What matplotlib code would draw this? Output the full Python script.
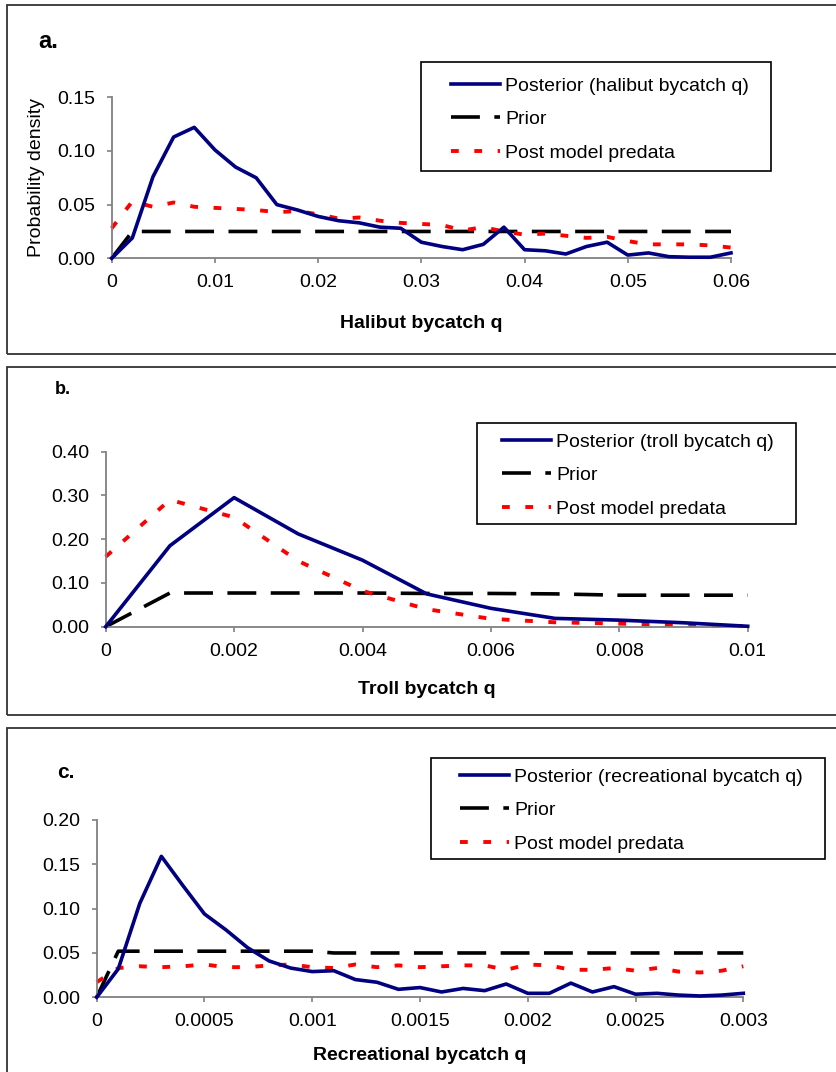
import matplotlib
matplotlib.use("Agg")
import matplotlib.pyplot as plt
from matplotlib.patches import Rectangle
from matplotlib.lines import Line2D

plt.rcParams.update({
    "font.family": ["Liberation Sans", "DejaVu Sans"],
    "font.size": 14,
    "axes.edgecolor": "#808080",
    "axes.linewidth": 1.3,
    "xtick.color": "#808080",
    "ytick.color": "#808080",
    "xtick.labelcolor": "black",
    "ytick.labelcolor": "black",
    "xtick.direction": "out",
    "ytick.direction": "out",
    "xtick.major.size": 3.6,
    "ytick.major.size": 3.6,
    "xtick.major.width": 1.2,
    "ytick.major.width": 1.2,
    "xtick.labelsize": 14,
    "ytick.labelsize": 14,
})

W, H = 836, 1072

# ─── data ────────────────────────────────────────────────
halibut_q = [0, 0.002, 0.004, 0.006, 0.008, 0.010, 0.012, 0.014, 0.016, 0.018,
             0.020, 0.022, 0.024, 0.026, 0.028, 0.030, 0.032, 0.034, 0.036, 0.038,
             0.040, 0.042, 0.044, 0.046, 0.048, 0.050, 0.052, 0.054, 0.056, 0.058, 0.060]
halibut_post = [0, 0.019, 0.076, 0.113, 0.122, 0.101, 0.085, 0.075, 0.050, 0.045,
                0.039, 0.035, 0.033, 0.029, 0.028, 0.015, 0.011, 0.008, 0.013, 0.029,
                0.008, 0.007, 0.004, 0.011, 0.015, 0.003, 0.005, 0.0015, 0.001, 0.001, 0.005]
halibut_prior = [0, 0.025, 0.025, 0.025, 0.025, 0.025, 0.025, 0.025, 0.025, 0.025,
                 0.025, 0.025, 0.025, 0.025, 0.025, 0.025, 0.025, 0.025, 0.025, 0.025,
                 0.025, 0.025, 0.025, 0.025, 0.025, 0.025, 0.025, 0.025, 0.025, 0.025, 0.025]
halibut_predata = [0.028, 0.053, 0.048, 0.052, 0.048, 0.047, 0.046, 0.045, 0.043, 0.044,
                   0.041, 0.037, 0.038, 0.035, 0.033, 0.032, 0.031, 0.026, 0.029, 0.025,
                   0.022, 0.023, 0.021, 0.019, 0.020, 0.016, 0.013, 0.013, 0.013, 0.012, 0.010]

troll_q = [0, 0.001, 0.002, 0.003, 0.004, 0.005, 0.006, 0.007, 0.008, 0.009, 0.010]
troll_post = [0, 0.185, 0.295, 0.212, 0.152, 0.075, 0.042, 0.019, 0.015, 0.009, 0.001]
troll_prior = [0, 0.077, 0.077, 0.077, 0.077, 0.076, 0.076, 0.075, 0.072, 0.072, 0.072]
troll_predata = [0.16, 0.29, 0.25, 0.15, 0.082, 0.04, 0.018, 0.01, 0.007, 0.004, 0.001]

rec_q = [0, 0.0001, 0.0002, 0.0003, 0.0004, 0.0005, 0.0006, 0.0007, 0.0008, 0.0009,
         0.0010, 0.0011, 0.0012, 0.0013, 0.0014, 0.0015, 0.0016, 0.0017, 0.0018, 0.0019,
         0.0020, 0.0021, 0.0022, 0.0023, 0.0024, 0.0025, 0.0026, 0.0027, 0.0028, 0.0029, 0.0030]
rec_post = [0, 0.032, 0.106, 0.159, 0.126, 0.094, 0.076, 0.056, 0.041, 0.033,
            0.029, 0.030, 0.020, 0.017, 0.009, 0.011, 0.006, 0.010, 0.0075, 0.015,
            0.0045, 0.0045, 0.016, 0.006, 0.012, 0.0035, 0.0045, 0.0025, 0.0015, 0.0025, 0.0045]
rec_prior = [0, 0.052, 0.052, 0.052, 0.052, 0.052, 0.052, 0.052, 0.052, 0.052,
             0.052, 0.050, 0.050, 0.050, 0.050, 0.050, 0.050, 0.050, 0.050, 0.050,
             0.050, 0.050, 0.050, 0.050, 0.050, 0.050, 0.050, 0.050, 0.050, 0.050, 0.050]
rec_predata = [0.017, 0.033, 0.035, 0.034, 0.035, 0.037, 0.034, 0.034, 0.036, 0.037,
               0.034, 0.033, 0.037, 0.034, 0.036, 0.034, 0.035, 0.036, 0.036, 0.031,
               0.037, 0.036, 0.031, 0.031, 0.033, 0.030, 0.033, 0.029, 0.028, 0.030, 0.035]

halibut_xticks = [0, 0.01, 0.02, 0.03, 0.04, 0.05, 0.06]
halibut_xlabels = ["0", "0.01", "0.02", "0.03", "0.04", "0.05", "0.06"]
halibut_yticks = [0, 0.05, 0.10, 0.15]
troll_xticks = [0, 0.002, 0.004, 0.006, 0.008, 0.010]
troll_xlabels = ["0", "0.002", "0.004", "0.006", "0.008", "0.01"]
troll_yticks = [0, 0.1, 0.2, 0.3, 0.4]
rec_xticks = [0, 0.0005, 0.001, 0.0015, 0.002, 0.0025, 0.003]
rec_xlabels = ["0", "0.0005", "0.001", "0.0015", "0.002", "0.0025", "0.003"]
rec_yticks = [0, 0.05, 0.10, 0.15, 0.20]

NAVY = "#000080"
RED = "#FF0000"


def fx(x):
    return x / W


def fy(y):
    return 1 - y / H


def add_box(fig, x0, y0, x1, y1, lw=1.3, ec="#333333"):
    fig.add_artist(Rectangle((fx(x0), fy(y1)), fx(x1) - fx(x0), fy(y0) - fy(y1),
                             transform=fig.transFigure, fill=False, ec=ec, lw=lw,
                             clip_on=False))


fig = plt.figure(figsize=(W / 100, H / 100), dpi=100)

# outer panel frames
add_box(fig, 7, 5, 845, 354)
add_box(fig, 7, 367, 845, 715)
add_box(fig, 7, 728, 845, 1085)

panels = [
    # axes px (left, top, right, bottom), data, ticks, labels, legend
    dict(rect=(111.7, 97.3, 731, 258.3), x=halibut_q, post=halibut_post, prior=halibut_prior,
         pred=halibut_predata, xt=halibut_xticks, xl=halibut_xlabels, yt=halibut_yticks,
         xlim=0.06, ylim=0.15, name="Posterior (halibut bycatch q)",
         xlabel="Halibut bycatch q", xlab_y=323, letter="a.", letter_xy=(48, 41), letter_fs=17,
         leg=(451, 77), legbox=(421, 62, 171)),
    dict(rect=(105.7, 451.7, 747.7, 626.7), x=troll_q, post=troll_post, prior=troll_prior,
         pred=troll_predata, xt=troll_xticks, xl=troll_xlabels, yt=troll_yticks,
         xlim=0.01, ylim=0.40, name="Posterior (troll bycatch q)",
         xlabel="Troll bycatch q", xlab_y=689, letter="b.", letter_xy=(63, 389), letter_fs=13,
         leg=(502, 433), legbox=(477, 423, 524)),
    dict(rect=(96.7, 820, 743.3, 997.3), x=rec_q, post=rec_post, prior=rec_prior,
         pred=rec_predata, xt=rec_xticks, xl=rec_xlabels, yt=rec_yticks,
         xlim=0.003, ylim=0.20, name="Posterior (recreational bycatch q)",
         xlabel="Recreational bycatch q", xlab_y=1056, letter="c.", letter_xy=(66, 773), letter_fs=15,
         leg=(460, 768), legbox=(431, 758, 859)),
]

legends = []
for i, p in enumerate(panels):
    l, t, r, b = p["rect"]
    ax = fig.add_axes([fx(l), fy(b), fx(r) - fx(l), fy(t) - fy(b)])
    ax.plot(p["x"], p["post"], color=NAVY, lw=2.6, clip_on=False, zorder=3)
    ax.plot(p["x"], p["prior"], color="black", lw=2.6, dashes=(8, 4), clip_on=False, zorder=2)
    ax.plot(p["x"], p["pred"], color=RED, lw=2.8, dashes=(2, 4), clip_on=False, zorder=2)

    ax.set_xlim(0, p["xlim"])
    ax.set_ylim(0, p["ylim"])
    ax.set_xticks(p["xt"])
    ax.set_xticklabels(p["xl"])
    ax.set_yticks(p["yt"])
    ax.set_yticklabels([f"{v:.2f}" for v in p["yt"]])
    ax.tick_params(axis="x", pad=8)
    ax.tick_params(axis="y", pad=8)
    ax.spines["top"].set_visible(False)
    ax.spines["right"].set_visible(False)
    ax.patch.set_visible(False)

    fig.text(fx((l + r) / 2), fy(p["xlab_y"]), p["xlabel"], ha="center", va="center",
             fontsize=14, fontweight="bold")
    fig.text(fx(p["letter_xy"][0]), fy(p["letter_xy"][1]), p["letter"], ha="center",
             va="center", fontsize=p["letter_fs"], fontweight="bold")
    if i == 0:
        ax.set_ylabel("Probability density", fontsize=14, labelpad=9)

    handles = [
        Line2D([], [], color=NAVY, lw=2.6),
        Line2D([], [], color="black", lw=2.6, dashes=(8, 4)),
        Line2D([], [], color=RED, lw=2.8, dashes=(2, 4)),
    ]
    leg = ax.legend(handles, [p["name"], "Prior", "Post model predata"],
                    loc="upper left", bbox_to_anchor=(fx(p["leg"][0]), fy(p["leg"][1])),
                    bbox_transform=fig.transFigure, frameon=False, borderpad=0,
                    borderaxespad=0, handlelength=2.5, handletextpad=0.3,
                    labelspacing=0.82, fontsize=14)
    legends.append((leg, p["legbox"]))

# legend frames sized to their text
fig.canvas.draw()
for leg, (x0, y0, y1) in legends:
    bb = leg.get_window_extent()
    right = bb.x1 + 22
    add_box(fig, x0, y0, right, y1, lw=1.2, ec="black")

fig.savefig("out.png", dpi=100)
